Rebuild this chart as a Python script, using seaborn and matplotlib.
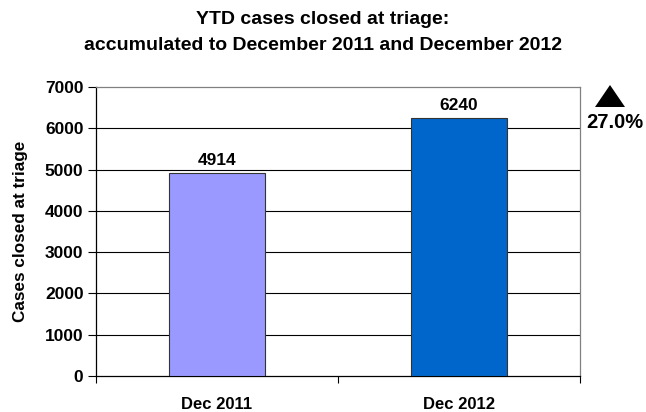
import matplotlib
matplotlib.use("Agg")
import matplotlib.pyplot as plt
from matplotlib.patches import Polygon
import seaborn as sns
import pandas as pd

periods = ["Dec 2011", "Dec 2012"]
cases = [4914, 6240]
bar_colors = ["#9999FF", "#0066CC"]
yticks = [0, 1000, 2000, 3000, 4000, 5000, 6000, 7000]
change_label = "27.0%"

sns.set_style("white")
plt.rcParams["font.family"] = ["Liberation Sans", "DejaVu Sans"]
plt.rcParams["font.weight"] = "bold"
plt.rcParams["text.color"] = "#000000"
plt.rcParams["axes.labelcolor"] = "#000000"
plt.rcParams["xtick.color"] = "#000000"
plt.rcParams["ytick.color"] = "#000000"

df = pd.DataFrame({"period": periods, "cases": cases})

fig = plt.figure(figsize=(6.46, 4.12), dpi=100)
ax = fig.add_axes([96 / 646, 1 - 376 / 412, (580 - 96) / 646, (376 - 87) / 412])

sns.barplot(data=df, x="period", y="cases", hue="period", palette=bar_colors, saturation=1,
            width=0.4, edgecolor="#333333", linewidth=0.8, legend=False, ax=ax, zorder=3)

ax.set_ylim(0, 7000)
ax.set_xlim(-0.5, 1.5)
ax.set_yticks(yticks)
ax.set_yticklabels([str(t) for t in yticks], fontsize=12.5, fontweight="bold")
ax.set_xticks([0, 1])
ax.set_xticklabels(periods, fontsize=12, fontweight="bold")
ax.tick_params(axis="x", length=0, pad=15)
ax.tick_params(axis="y", length=5.5, direction="out", left=True, width=0.8, pad=3.5, color="#000000")

# tick marks on the category boundaries
ax.set_xticks([-0.5, 0.5, 1.5], minor=True)
ax.tick_params(axis="x", which="minor", length=5, direction="out", bottom=True, width=0.8, color="#000000")

for y in yticks[1:-1]:
    ax.axhline(y, color="#000000", linewidth=0.8, zorder=1)

ax.set_ylabel("Cases closed at triage", fontsize=12.3, fontweight="bold", labelpad=12)
ax.set_xlabel("")

for s in ["left", "bottom"]:
    ax.spines[s].set_color("#000000")
    ax.spines[s].set_linewidth(0.9)
for s in ["top", "right"]:
    ax.spines[s].set_visible(True)
    ax.spines[s].set_color("#808080")
    ax.spines[s].set_linewidth(0.9)

for i, v in enumerate(cases):
    ax.annotate(str(v), (i, v), xytext=(0, 4), textcoords="offset points",
                ha="center", va="bottom", fontsize=12.5, fontweight="bold", color="#000000")

# up arrow marker and change label to the right of the plot
tri = Polygon([(595 / 646, 1 - 107 / 412), (625 / 646, 1 - 107 / 412), (610 / 646, 1 - 85 / 412)],
              closed=True, facecolor="#000000", edgecolor="none", transform=fig.transFigure)
fig.add_artist(tri)
fig.text(615 / 646, 1 - 122 / 412, change_label, ha="center", va="center", fontsize=14.5, fontweight="bold")

fig.text(323 / 646, 1 - 20 / 412, "YTD cases closed at triage:", ha="center", va="center",
         fontsize=14, fontweight="bold")
fig.text(323 / 646, 1 - 46 / 412, "accumulated to December 2011 and December 2012", ha="center",
         va="center", fontsize=14, fontweight="bold")

fig.savefig("out.png", dpi=100)
